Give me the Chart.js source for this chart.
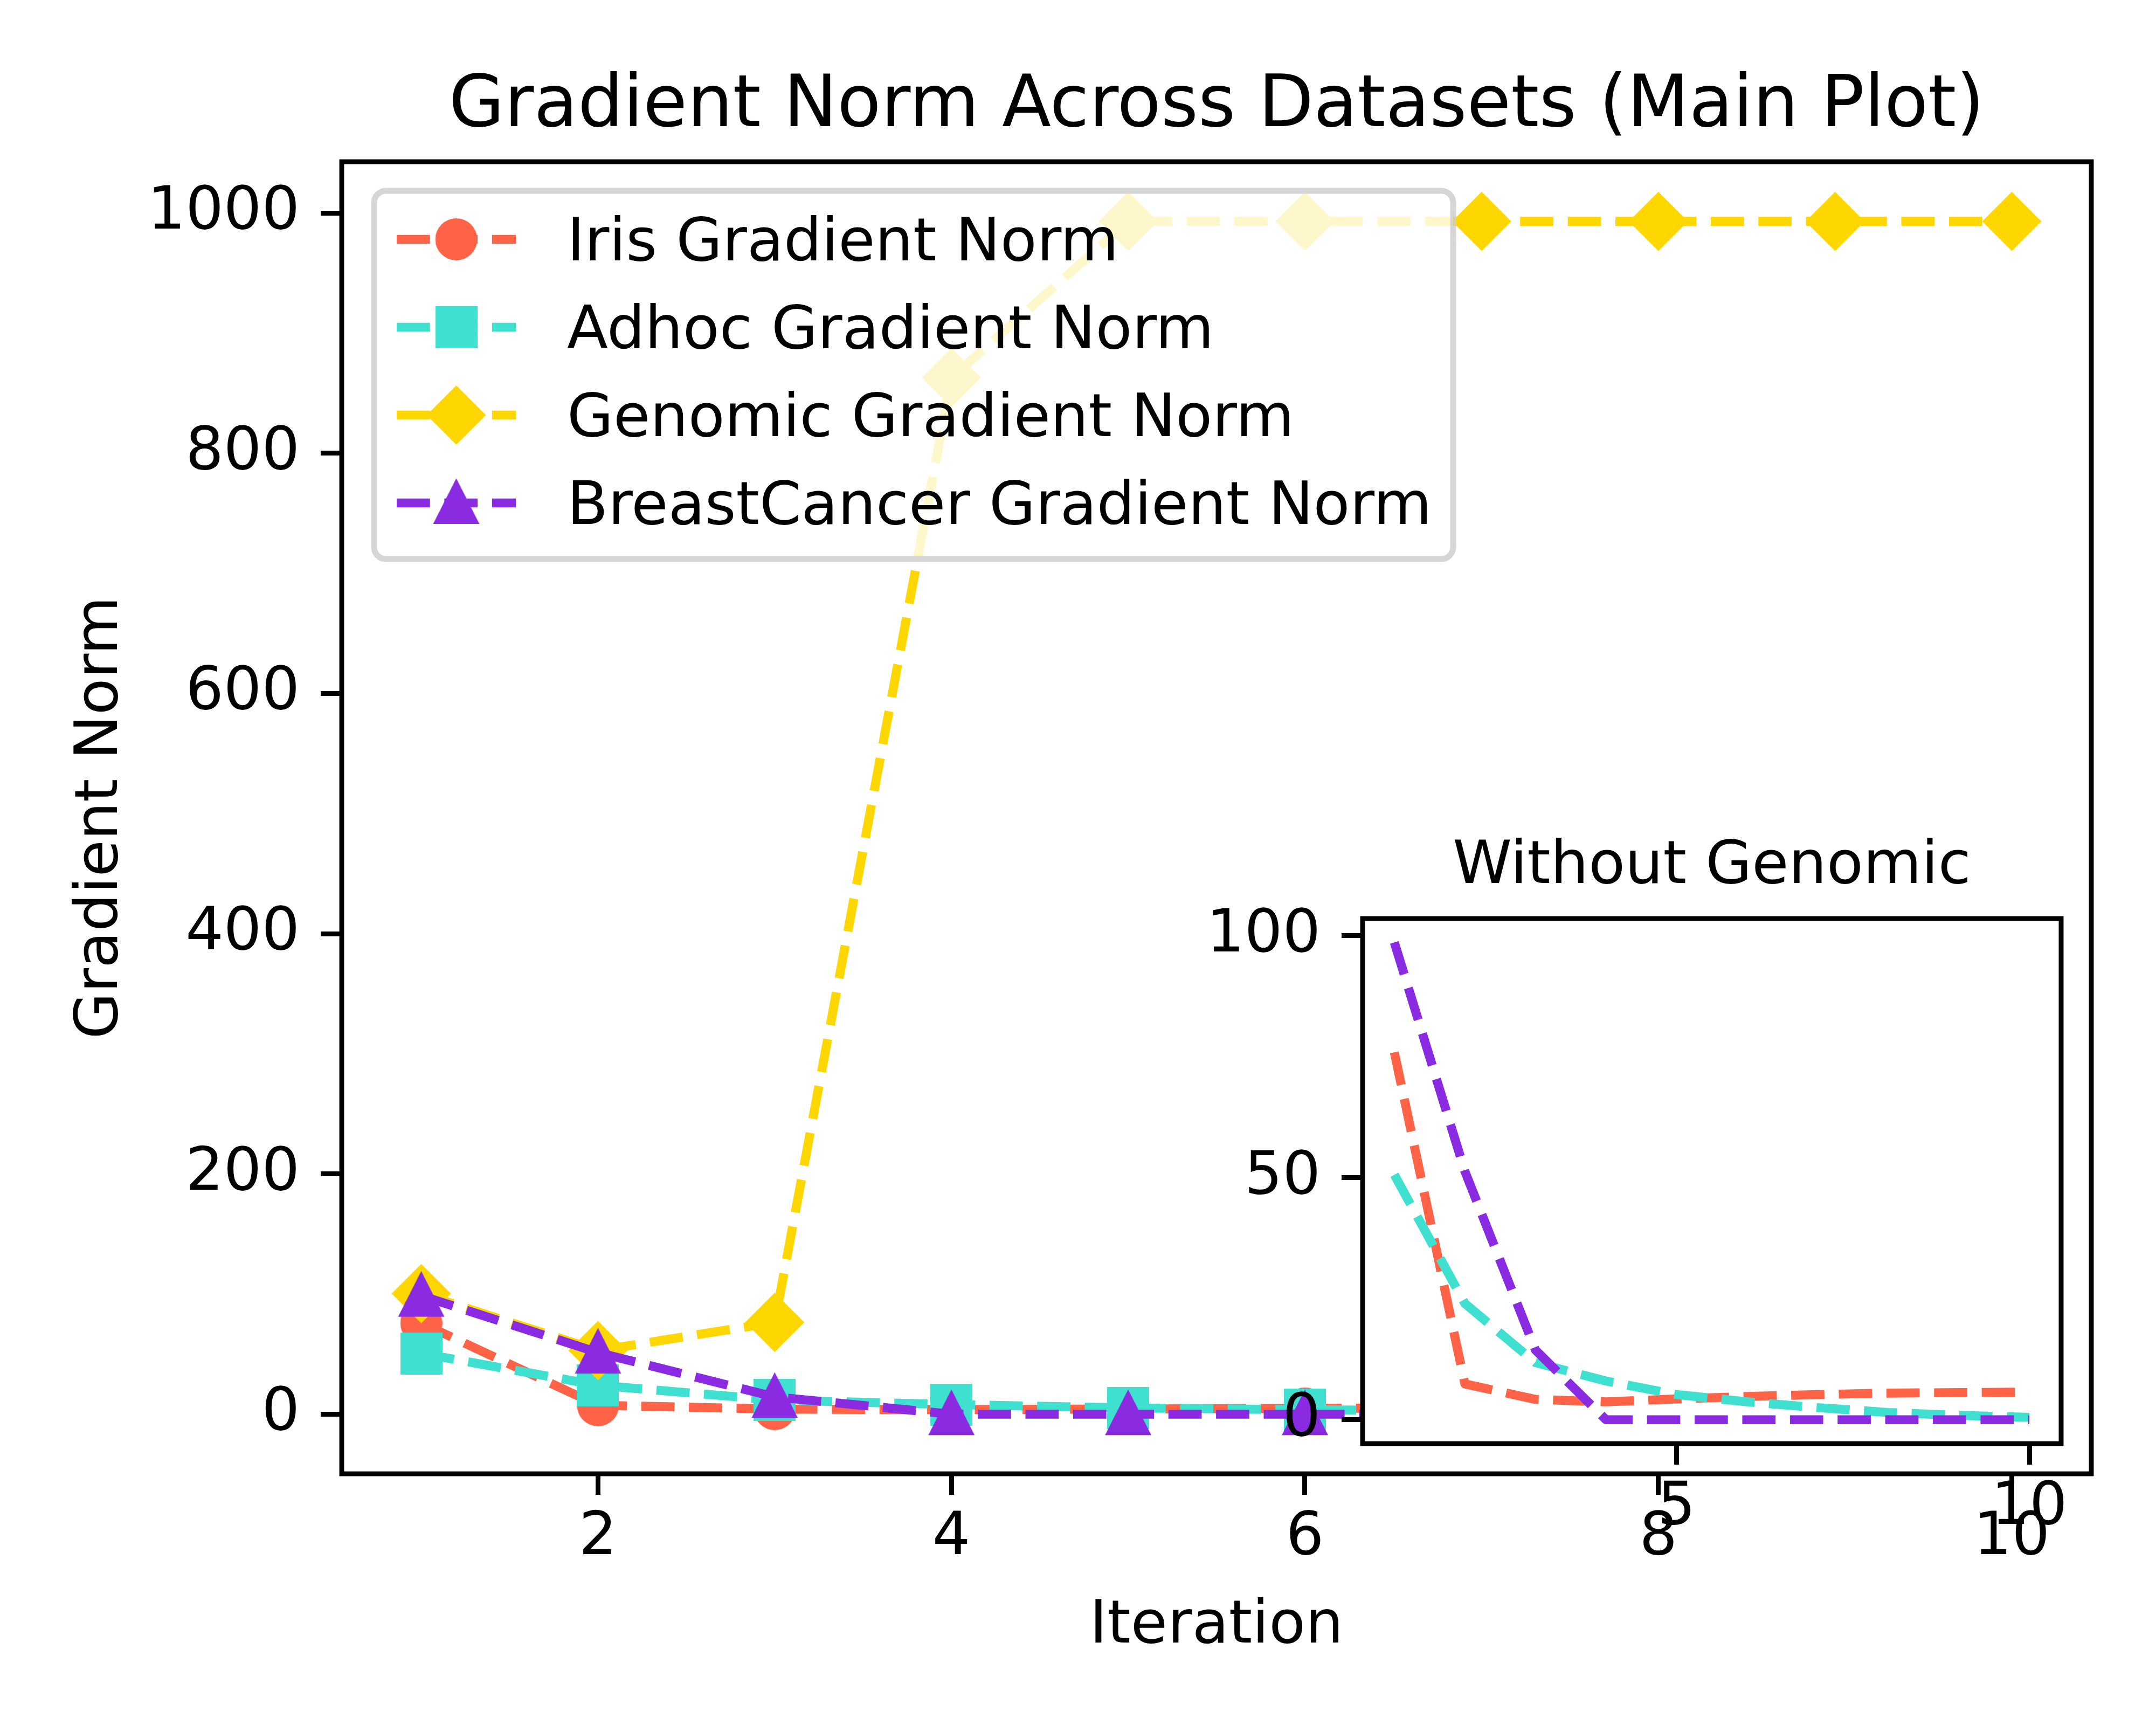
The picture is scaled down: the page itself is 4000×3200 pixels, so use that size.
<!DOCTYPE html>
<html>
<head>
<meta charset="utf-8">
<script src="https://cdn.jsdelivr.net/npm/chart.js@4.4.1/dist/chart.umd.min.js"></script>
<style>
  body { margin: 0; background: #fff; }
  #wrap { position: relative; width: 4000px; height: 3200px; }
  #wrap canvas { position: absolute; left: 0; top: 0; }
</style>
</head>
<body>
<div id="wrap">
  <canvas id="main" width="4000" height="3200"></canvas>
  <canvas id="inset" width="4000" height="3200"></canvas>
</div>
<script>
// data
const iterations = [1, 2, 3, 4, 5, 6, 7, 8, 9, 10];
const irisNorm = [75.9, 7.4, 4.2, 3.7, 4.3, 4.8, 5.2, 5.5, 5.6, 5.7];
const adhocNorm = [50.6, 24.0, 11.8, 8.0, 5.2, 3.7, 2.5, 1.5, 0.9, 0.5];
const genomicNorm = [100.4, 53, 76.4, 863, 993, 993, 993, 993, 993, 993];
const breastNorm = [98.6, 51.3, 14.4, 0, 0, 0, 0, 0, 0, 0];

const seriesLabels = ["Iris Gradient Norm", "Adhoc Gradient Norm", "Genomic Gradient Norm", "BreastCancer Gradient Norm"];
const mainXTicks = [2, 4, 6, 8, 10];
const mainYTicks = [0, 200, 400, 600, 800, 1000];
const insetXTicks = [5, 10];
const insetYTicks = [0, 50, 100];

const COLORS = ["#FF6347", "#40E0D0", "#FFD700", "#8A2BE2"];
const SHAPES = ["circle", "square", "diamond", "triangle"];
const FONT = "'DejaVu Sans'";
const LW = 16.7;
const DASH = [61.7, 26.7];

Chart.defaults.font.family = FONT;
Chart.defaults.color = "#000";

// matplotlib style 5% margins
function lims(arrs) {
  const all = [].concat(...arrs);
  const lo = Math.min(...all), hi = Math.max(...all);
  const m = (hi - lo) * 0.05;
  return [lo - m, hi + m];
}

function makeMarker(shape, color) {
  const c = document.createElement("canvas");
  const s = shape === "diamond" ? 110 : shape === "triangle" ? 92 : 78;
  c.width = s; c.height = s;
  const g = c.getContext("2d");
  const m = s / 2;
  g.fillStyle = color;
  g.beginPath();
  if (shape === "circle") g.arc(m, m, 39, 0, Math.PI * 2);
  else if (shape === "square") g.rect(0, 0, s, s);
  else if (shape === "diamond") { g.moveTo(m, 0); g.lineTo(s, m); g.lineTo(m, s); g.lineTo(0, m); g.closePath(); }
  else { g.moveTo(m, m - 45.7); g.lineTo(m + 43, m + 38.9); g.lineTo(m - 43, m + 38.9); g.closePath(); }
  g.fill();
  return c;
}
const markers = SHAPES.map((s, i) => makeMarker(s, COLORS[i]));

function axis(lim, ticks, pad, afterFit) {
  return {
    type: "linear",
    min: lim[0],
    max: lim[1],
    afterBuildTicks: (s) => { s.ticks = ticks.map((v) => ({ value: v })); },
    afterFit,
    border: { display: false },
    grid: { display: true, drawOnChartArea: false, drawTicks: true, tickLength: 39, tickWidth: 8.9, tickColor: "#000" },
    ticks: {
      autoSkip: false, maxRotation: 0, minRotation: 0, padding: pad, color: "#000",
      font: { size: 111, family: FONT },
      callback: (v) => String(v),
    },
  };
}

const frame = {
  id: "frame",
  beforeDraw(chart, args, opts) {
    if (!opts.fill) return;
    const a = chart.chartArea, ctx = chart.ctx;
    ctx.save();
    ctx.fillStyle = "#fff";
    ctx.fillRect(a.left, a.top, a.right - a.left, a.bottom - a.top);
    ctx.restore();
  },
  afterDraw(chart) {
    const a = chart.chartArea, ctx = chart.ctx;
    ctx.save();
    ctx.strokeStyle = "#000";
    ctx.lineWidth = 8.9;
    ctx.strokeRect(a.left, a.top, a.right - a.left, a.bottom - a.top);
    ctx.restore();
  },
};

const texts = {
  id: "texts",
  afterDraw(chart, args, opts) {
    const ctx = chart.ctx, a = chart.chartArea;
    const cx = (a.left + a.right) / 2;
    ctx.save();
    ctx.fillStyle = "#000";
    ctx.textAlign = "center";
    ctx.textBaseline = "alphabetic";
    ctx.font = opts.titleSize + "px " + FONT;
    ctx.fillText(opts.title, cx, a.top - opts.titleGap);
    if (opts.xLabel) {
      ctx.font = "111px " + FONT;
      ctx.fillText(opts.xLabel, cx, 3047);
      ctx.translate(217, (a.top + a.bottom) / 2);
      ctx.rotate(-Math.PI / 2);
      ctx.fillText(opts.yLabel, 0, 0);
    }
    ctx.restore();
  },
};

const legendBox = {
  id: "legendBox",
  afterDatasetsDraw(chart) {
    const ctx = chart.ctx;
    ctx.save();
    ctx.beginPath();
    ctx.roundRect(694, 354, 2002, 683, 22);
    ctx.fillStyle = "rgba(255,255,255,0.8)";
    ctx.fill();
    ctx.lineWidth = 11;
    ctx.strokeStyle = "rgba(204,204,204,0.8)";
    ctx.stroke();
    seriesLabels.forEach((lab, i) => {
      const base = 483 + 163 * i;
      const yc = base - 39;
      ctx.beginPath();
      ctx.setLineDash(DASH);
      ctx.lineWidth = LW;
      ctx.strokeStyle = COLORS[i];
      ctx.moveTo(736, yc);
      ctx.lineTo(957, yc);
      ctx.stroke();
      ctx.setLineDash([]);
      const mk = markers[i];
      ctx.drawImage(mk, 846.5 - mk.width / 2, yc - mk.height / 2);
      ctx.fillStyle = "#000";
      ctx.font = "111px " + FONT;
      ctx.textBaseline = "alphabetic";
      ctx.fillText(lab, 1052, base);
    });
    ctx.restore();
  },
};

const xLim = lims([iterations]);

function series(values, i, withMarkers) {
  return {
    label: seriesLabels[i],
    data: iterations.map((x, k) => ({ x, y: values[k] })),
    borderColor: COLORS[i],
    backgroundColor: COLORS[i],
    borderWidth: LW,
    borderDash: DASH,
    borderJoinStyle: "round",
    borderCapStyle: "butt",
    tension: 0,
    fill: false,
    pointStyle: withMarkers ? markers[i] : "circle",
    pointRadius: withMarkers ? 40 : 0,
    pointBorderWidth: 0,
    order: 4 - i,
  };
}

new Chart(document.getElementById("main"), {
  type: "line",
  data: {
    datasets: [
      series(irisNorm, 0, true),
      series(adhocNorm, 1, true),
      series(genomicNorm, 2, true),
      series(breastNorm, 3, true),
    ],
  },
  plugins: [frame, texts, legendBox],
  options: {
    responsive: false,
    devicePixelRatio: 1,
    animation: false,
    events: [],
    layout: { padding: { left: 0, top: 300, right: 120, bottom: 0 } },
    scales: {
      x: axis(xLim, mainXTicks, 15, (s) => { s.height = 466; }),
      y: axis(lims([irisNorm, adhocNorm, genomicNorm, breastNorm]), mainYTicks, 39, (s) => { s.width = 634; }),
    },
    plugins: {
      legend: { display: false },
      tooltip: { enabled: false },
      frame: { fill: false },
      texts: {
        title: "Gradient Norm Across Datasets (Main Plot)", titleSize: 133, titleGap: 66,
        xLabel: "Iteration", yLabel: "Gradient Norm",
      },
    },
  },
});

new Chart(document.getElementById("inset"), {
  type: "line",
  data: {
    datasets: [
      series(irisNorm, 0, false),
      series(adhocNorm, 1, false),
      series(breastNorm, 3, false),
    ],
  },
  plugins: [frame, texts],
  options: {
    responsive: false,
    devicePixelRatio: 1,
    animation: false,
    events: [],
    layout: { padding: { left: 0, top: 1704, right: 176, bottom: 0 } },
    scales: {
      x: axis(xLim, insetXTicks, 15, (s) => { s.height = 522; }),
      y: axis(lims([irisNorm, adhocNorm, breastNorm]), insetYTicks, 39, (s) => { s.width = 2528; }),
    },
    plugins: {
      legend: { display: false },
      tooltip: { enabled: false },
      frame: { fill: true },
      texts: { title: "Without Genomic", titleSize: 111, titleGap: 66 },
    },
  },
});
</script>
</body>
</html>
